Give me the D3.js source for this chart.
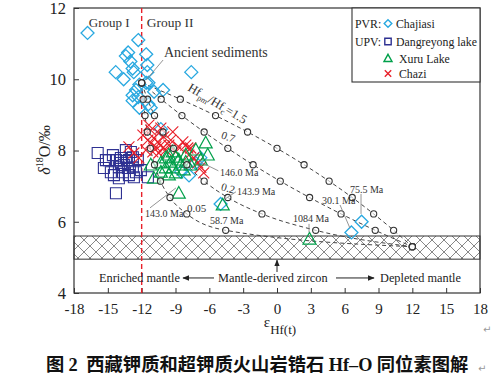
<!DOCTYPE html>
<html><head><meta charset="utf-8">
<script src="https://cdn.jsdelivr.net/npm/d3@7"></script>
<style>body{margin:0;background:#fff}svg{display:block}</style>
</head><body>
<svg id="c" width="500" height="378"></svg>
<script>
// ---------- data ----------
const xTicks = [-18,-15,-12,-9,-6,-3,0,3,6,9,12,15,18];
const yTicks = [4,6,8,10,12];

// PVR: Chajiasi (diamonds)  [εHf(t), δ18O]
const chajiasi = [
 [-16.8,11.3],[-12.3,11.1],[-11.6,10.7],[-13.2,10.75],[-13.4,10.65],[-13.0,10.5],
 [-12.8,10.3],[-14.3,10.2],[-13.6,10.0],[-12.7,10.2],[-11.5,10.4],[-11.5,10.2],
 [-11.6,9.9],[-12.2,9.85],[-12.5,9.7],[-12.8,9.55],[-12.8,9.4],[-12.3,9.5],
 [-11.4,9.3],[-12.2,9.2],[-11.2,9.2],[-10.9,9.65],[-10.1,9.7],[-7.6,10.2],
 [-11.4,9.9],[-10.3,8.6],[-7.2,7.65],[-6.8,7.8],[-8.5,7.4],[-7.8,7.3],
 [-5.0,6.5],[6.6,5.7],[7.5,6.0]
];
// UPV: Dangreyong lake (squares)
const dangreyong = [
 [-15.9,7.93],[-14.9,7.73],[-15.35,7.51],[-14.73,7.39],[-14.28,7.73],[-13.84,7.79],
 [-13.4,7.79],[-13.13,7.73],[-12.78,7.81],[-13.58,7.59],[-14.02,7.53],[-13.66,7.39],
 [-13.22,7.51],[-12.78,7.53],[-12.51,7.39],[-12.07,7.45],[-12.69,7.25],[-11.45,7.25],
 [-14.28,6.8],[-14.46,7.31],[-14.02,7.22],[-15.17,7.73],[-14.55,7.87],[-13.4,8.01],
 [-12.96,7.96],[-12.34,7.73],[-13.84,7.65],[-13.13,7.31]
];
// Xuru Lake (triangles)
const xuru = [
 [-11.19,7.59],[-10.3,7.65],[-9.86,7.79],[-9.59,7.87],[-9.24,7.96],[-8.97,7.81],
 [-9.42,7.67],[-8.71,7.73],[-9.86,7.51],[-9.24,7.51],[-8.53,7.59],[-8.09,7.67],
 [-10.3,7.39],[-9.59,7.31],[-8.97,7.37],[-7.65,7.59],[-6.76,7.73],[-6.32,8.21],
 [-6.14,7.87],[-7.2,8.01],[-8.71,6.8],[-8.27,7.45],[-10.92,7.22],[-4.81,6.47],
 [2.88,5.51],[-8.09,7.87]
];
// Chazi (crosses)
const chazi = [
 [-13.13,8.1],[-12.69,7.93],[-12.25,7.79],[-11.89,8.43],[-11.45,8.29],[-11.19,8.21],
 [-10.92,8.35],[-10.57,8.24],[-10.3,8.15],[-10.74,8.1],[-10.12,8.07],[-9.86,8.01],
 [-11.01,7.96],[-10.48,7.93],[-11.19,8.57],[-10.48,8.49],[-10.04,8.38],[-9.59,8.15],
 [-8.97,7.96],[-8.35,8.24],[-8.09,8.15],[-7.65,8.07],[-7.82,7.87],[-7.38,7.79],
 [-7.03,7.65],[-6.76,7.53],[-6.5,7.37],[-7.91,8.07],[-9.42,8.29],[-11.63,8.01],
 [-11.36,8.71],[-9.24,8.52],[-8.71,8.1],[-10.3,8.63]
];

// mixing curves (ancient sediment -> depleted mantle), nodes
const mixD18O   = [9.9, 9.44, 8.98, 8.52, 8.06, 7.60, 7.14, 6.68, 6.22, 5.76, 5.3];
const mixEps15  = [-12, -8.57, -5.45, -2.61, 0.0, 2.4, 4.62, 6.67, 8.57, 10.34, 12];
const mixEps07  = [-12, -10.27, -8.43, -6.46, -4.36, -2.12, 0.29, 2.89, 5.68, 8.71, 12];
const mixEps02  = [-12, -11.48, -10.86, -10.11, -9.18, -8.0, -6.46, -4.36, -1.33, 3.43, 12];
const mixEps005 = [-12, -11.87, -11.70, -11.50, -11.23, -10.86, -10.33, -9.49, -8.0, -4.55, 12];

const mantleBand = [4.95, 5.6];
const groupBoundary = -12;

// annotations: [text, x, y, leader x1,y1,x2,y2]
const ageLabels = [
 ["146.0 Ma", -5.05, 7.28, -5.2, 7.43, -6.8, 7.68],
 ["143.9 Ma", -3.55, 6.75, -3.64, 6.84, -4.6, 6.64],
 ["143.0 Ma", -11.7, 6.13, -11.26, 6.39, -8.96, 6.95],
 ["58.7 Ma", -5.94, 5.94, null, null, null, null],
 ["1084 Ma", 1.42, 5.99, 2.84, 5.94, 2.84, 5.7],
 ["30.1 Ma", 3.99, 6.5, 5.59, 6.47, 6.47, 5.82],
 ["75.5 Ma", 6.47, 6.81, 7.45, 6.78, 7.45, 6.22]
];

// ---------- drawing ----------
const svg = d3.select("#c");
const W = 500, H = 378;
const x = d3.scaleLinear().domain([-18,18]).range([74,480]);
const y = d3.scaleLinear().domain([4,12]).range([293,8]);
const serif = "'Liberation Serif','Times New Roman',serif";

svg.append("rect").attr("width",W).attr("height",H).attr("fill","#fff");

// hatch pattern
const defs = svg.append("defs");
const pat = defs.append("pattern").attr("id","hatch").attr("patternUnits","userSpaceOnUse")
  .attr("width",12).attr("height",12);
pat.append("path").attr("d","M0,0L12,12M12,0L0,12M-1,11L1,13M11,-1L13,1M-1,1L1,-1M11,13L13,11")
  .attr("stroke","#555").attr("stroke-width",0.7);

svg.append("rect")
  .attr("x",x(-18)).attr("y",y(mantleBand[1]))
  .attr("width",x(18)-x(-18)).attr("height",y(mantleBand[0])-y(mantleBand[1]))
  .attr("fill","url(#hatch)").attr("stroke","#333").attr("stroke-width",1);

// frame
svg.append("rect").attr("x",x(-18)).attr("y",y(12)).attr("width",x(18)-x(-18)).attr("height",y(4)-y(12))
  .attr("fill","none").attr("stroke","#333").attr("stroke-width",1.2);

// axes
const xAxis = d3.axisBottom(x).tickValues(xTicks).tickFormat(d=>String(d))
  .tickSizeInner(-5).tickSizeOuter(0).tickPadding(10);
const gx = svg.append("g").attr("transform",`translate(0,${y(4)})`).call(xAxis);
gx.select(".domain").remove();
gx.selectAll("line").attr("stroke","#333");
gx.selectAll("text").attr("font-family",serif).attr("font-size",15).attr("fill","#222");

const yAxis = d3.axisLeft(y).tickValues(yTicks).tickFormat(d=>String(d))
  .tickSizeInner(-5).tickSizeOuter(0).tickPadding(8);
const gy = svg.append("g").attr("transform",`translate(${x(-18)},0)`).call(yAxis);
gy.select(".domain").remove();
gy.selectAll("line").attr("stroke","#333");
gy.selectAll("text").attr("font-family",serif).attr("font-size",16.5).attr("fill","#222");

// axis titles
const yl = svg.append("text").attr("transform","translate(50,150) rotate(-90)")
  .attr("text-anchor","middle").attr("font-family",serif).attr("font-size",16).attr("fill","#222");
yl.append("tspan").attr("font-style","italic").text("δ");
yl.append("tspan").attr("font-size",10).attr("dy",-7).text("18");
yl.append("tspan").attr("dy",7).text("O/‰");

const xl = svg.append("text").attr("x",280).attr("y",327).attr("text-anchor","middle")
  .attr("font-family",serif).attr("font-size",15).attr("fill","#222");
xl.append("tspan").text("ε");
xl.append("tspan").attr("font-size",13).attr("dy",7).text("Hf(t)");

svg.append("text").attr("x",483).attr("y",333).attr("font-size",10).attr("fill","#999")
  .attr("font-family","'DejaVu Sans'").text("↵");

// mixing curves
const curves = [mixEps15, mixEps07, mixEps02, mixEps005];
const line = d3.line().x(d=>x(d[0])).y(d=>y(d[1])).curve(d3.curveMonotoneX);
curves.forEach(eps=>{
  const pts = eps.map((e,i)=>[e, mixD18O[i]]);
  svg.append("path").attr("d",line(pts)).attr("fill","none")
    .attr("stroke","#444").attr("stroke-width",1).attr("stroke-dasharray","4,3");
});

// group boundary
svg.append("line").attr("x1",x(groupBoundary)).attr("x2",x(groupBoundary))
  .attr("y1",y(12)).attr("y2",y(4)).attr("stroke","#e8202a").attr("stroke-width",1.4)
  .attr("stroke-dasharray","5,3");

// symbols
const cBlue = "#28a8e0", cNavy = "#2e3192", cGreen = "#00a04a", cRed = "#e8202a";
const diamond = s=>`M0,${-s}L${s},0L0,${s}L${-s},0Z`;
const square = s=>`M${-s},${-s}H${s}V${s}H${-s}Z`;
const tri = s=>`M0,${-s*1.05}L${s},${s*0.75}L${-s},${s*0.75}Z`;
const cross = s=>`M${-s},${-s}L${s},${s}M${s},${-s}L${-s},${s}`;

function plot(data, pathFn, color, sw){
  svg.append("g").selectAll("path").data(data).join("path")
    .attr("transform",d=>`translate(${x(d[0])},${y(d[1])})`)
    .attr("d",pathFn).attr("fill","none").attr("stroke",color).attr("stroke-width",sw);
}
plot(dangreyong, square(5.5), cNavy, 1.1);
plot(chajiasi, diamond(6.5), cBlue, 1.3);
plot(chazi, cross(5.5), cRed, 1.1);
plot(xuru, tri(6.5), cGreen, 1.2);

// curve nodes
curves.forEach(eps=>{
  svg.append("g").selectAll("circle").data(eps.map((e,i)=>[e,mixD18O[i]])).join("circle")
    .attr("cx",d=>x(d[0])).attr("cy",d=>y(d[1])).attr("r",3.1)
    .attr("fill","#fff").attr("fill-opacity",0.6).attr("stroke","#333").attr("stroke-width",1.1);
});

// group labels
svg.append("text").attr("x",x(groupBoundary)-12).attr("y",27).attr("text-anchor","end")
  .attr("font-family",serif).attr("font-size",13).attr("fill","#333").text("Group I");
svg.append("text").attr("x",x(groupBoundary)+5).attr("y",27)
  .attr("font-family",serif).attr("font-size",13.5).attr("fill","#333").text("Group II");

// ancient sediments
svg.append("line").attr("x1",x(-10.1)).attr("y1",y(10.54)).attr("x2",x(-11.6)).attr("y2",y(9.98))
  .attr("stroke","#888").attr("stroke-width",0.9);
svg.append("text").attr("x",x(-10.02)).attr("y",y(10.62)).attr("font-family",serif)
  .attr("font-size",14).attr("fill","#333").text("Ancient sediments");

// ratio labels
const rl = svg.append("text").attr("transform",`translate(${x(-7.98)},${y(9.7)}) rotate(31)`)
  .attr("font-family",serif).attr("font-size",12.5).attr("fill","#333");
rl.append("tspan").text("Hf");
rl.append("tspan").attr("font-size",8).attr("dy",3).text("pm");
rl.append("tspan").attr("dy",-3).text("/Hf");
rl.append("tspan").attr("font-size",8).attr("dy",3).text("c");
rl.append("tspan").attr("dy",-3).text("=1.5");
[["0.7",-5.0,8.35,20],["0.2",-5.0,6.89,15],["0.05",-7.98,6.27,0]].forEach(d=>{
  svg.append("text").attr("transform",`translate(${x(d[1])},${y(d[2])}) rotate(${d[3]})`)
    .attr("font-family",serif).attr("font-size",11).attr("fill","#333").text(d[0]);
});

// age labels
ageLabels.forEach(d=>{
  if(d[3]!==null){
    svg.append("line").attr("x1",x(d[3])).attr("y1",y(d[4])).attr("x2",x(d[5])).attr("y2",y(d[6]))
      .attr("stroke","#888").attr("stroke-width",0.9);
  }
  svg.append("text").attr("x",x(d[1])).attr("y",y(d[2])).attr("font-family",serif)
    .attr("font-size",10).attr("fill","#333").text(d[0]);
});

// bottom text & arrows
defs.append("marker").attr("id","ah").attr("viewBox","0 0 10 10").attr("refX",9).attr("refY",5)
  .attr("markerWidth",7).attr("markerHeight",7).attr("orient","auto-start-reverse")
  .append("path").attr("d","M0,1L10,5L0,9Z").attr("fill","#222");
const by = y(4.31);
svg.append("text").attr("x",99).attr("y",by).attr("font-family",serif).attr("font-size",12.3).attr("fill","#222").text("Enriched mantle");
svg.append("text").attr("x",218).attr("y",by).attr("font-family",serif).attr("font-size",12.3).attr("fill","#222").text("Mantle-derived zircon");
svg.append("text").attr("x",380).attr("y",by).attr("font-family",serif).attr("font-size",12.3).attr("fill","#222").text("Depleted mantle");
svg.append("line").attr("x1",214).attr("y1",by-4).attr("x2",183).attr("y2",by-4)
  .attr("stroke","#222").attr("stroke-width",1).attr("marker-end","url(#ah)");
svg.append("line").attr("x1",336).attr("y1",by-4).attr("x2",374).attr("y2",by-4)
  .attr("stroke","#222").attr("stroke-width",1).attr("marker-end","url(#ah)");
svg.append("line").attr("x1",x(0)).attr("y1",by-10).attr("x2",x(0)).attr("y2",y(mantleBand[0])+1)
  .attr("stroke","#222").attr("stroke-width",1).attr("marker-end","url(#ah)");

// legend
const lg = svg.append("g");
lg.append("rect").attr("x",352).attr("y",y(12)).attr("width",x(18)-352).attr("height",74)
  .attr("fill","#fff").attr("stroke","#333").attr("stroke-width",1.1);
const legRows = [
  {pre:"PVR:", name:"Chajiasi", col:cBlue, shape:diamond(3.8), tx:396, sx:388, yy:28},
  {pre:"UPV:", name:"Dangreyong lake", col:cNavy, shape:square(3.2), tx:396, sx:388, yy:46},
  {pre:"", name:"Xuru Lake", col:cGreen, shape:tri(4), tx:399, sx:388, yy:63},
  {pre:"", name:"Chazi", col:cRed, shape:cross(3.2), tx:399, sx:388, yy:78}
];
legRows.forEach(r=>{
  if(r.pre) lg.append("text").attr("x",355).attr("y",r.yy).attr("font-family",serif).attr("font-size",11.8).attr("fill","#222").text(r.pre);
  lg.append("path").attr("transform",`translate(${r.sx},${r.yy-4.5})`).attr("d",r.shape)
    .attr("fill","none").attr("stroke",r.col).attr("stroke-width",1.4);
  lg.append("text").attr("x",r.tx).attr("y",r.yy).attr("font-family",serif).attr("font-size",11.8).attr("fill","#222").text(r.name);
});

// caption
const cap = svg.append("text").attr("x",46).attr("y",371).attr("font-weight","bold")
  .attr("font-size",18.3).attr("letter-spacing",0.05).attr("fill","#111")
  .attr("font-family","'Noto Sans CJK SC',sans-serif");
cap.append("tspan").text("图 ");
cap.append("tspan").attr("font-family",serif).text("2");
cap.append("tspan").text("\u00a0\u00a0西藏钾质和超钾质火山岩锆石 ");
cap.append("tspan").attr("font-family",serif).text("Hf–O");
cap.append("tspan").text(" 同位素图解");
svg.append("text").attr("x",478).attr("y",372).attr("font-size",10).attr("fill","#999")
  .attr("font-family","'DejaVu Sans'").text("↵");
</script>
</body></html>
